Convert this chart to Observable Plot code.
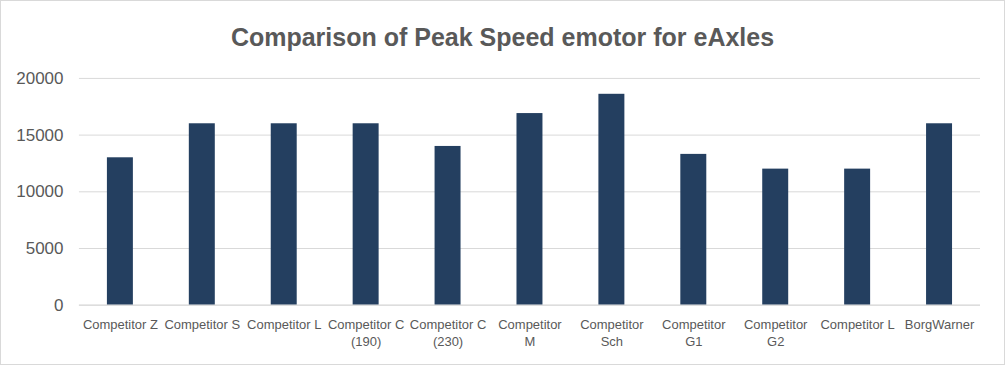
<!DOCTYPE html>
<html>
<head>
<meta charset="utf-8">
<script src="https://cdn.jsdelivr.net/npm/d3@7"></script>
<script src="https://cdn.jsdelivr.net/npm/@observablehq/plot@0.6"></script>
<style>
  html, body { margin: 0; padding: 0; background: #fff; }
  #wrap { position: relative; width: 1005px; height: 365px; box-sizing: border-box; border: 1px solid #d9d9d9; overflow: hidden; }
  #title { position: absolute; top: 22px; left: 0; width: 1003px; text-align: center; font-family: "Liberation Sans", Arial, sans-serif; font-weight: bold; font-size: 25px; color: #595959; }
  #chart { position: absolute; top: -1px; left: -1px; }
</style>
</head>
<body>
<div id="wrap">
  <div id="title">Comparison of Peak Speed emotor for eAxles</div>
  <div id="chart"></div>
</div>
<script>
const categories = ["Competitor Z", "Competitor S", "Competitor L", "Competitor C\n(190)", "Competitor C\n(230)", "Competitor\nM", "Competitor\nSch", "Competitor\nG1", "Competitor\nG2", "Competitor L", "BorgWarner"];
const peakSpeed = [13000, 16000, 16000, 16000, 14000, 16900, 18600, 13300, 12000, 12000, 16000];
const yTicks = [0, 5000, 10000, 15000, 20000];

const keys = categories.map((c, i) => i);
const data = keys.map(i => ({key: i, label: categories[i], value: peakSpeed[i]}));

const chart = Plot.plot({
  width: 1005,
  height: 365,
  marginTop: 78,
  marginBottom: 60,
  marginLeft: 79,
  marginRight: 24,
  style: {fontFamily: "Liberation Sans, Arial, sans-serif", color: "#595959", background: "transparent"},
  x: {domain: keys, paddingInner: 0.68, paddingOuter: 0.34, label: null},
  y: {domain: [0, 20000], label: null},
  marks: [
    Plot.gridY(yTicks, {stroke: "#d9d9d9", strokeOpacity: 1, strokeWidth: 1}),
    Plot.barY(data, {x: "key", y: "value", fill: "#243f60"}),
    Plot.ruleY([0], {stroke: "#d9d9d9", strokeWidth: 1}),
    Plot.axisY({ticks: yTicks, tickSize: 0, tickPadding: 16, fontSize: 17, tickFormat: d => String(d), label: null}),
    Plot.axisX({tickSize: 0, tickPadding: 12, fontSize: 13, lineHeight: 1.3, tickFormat: i => categories[i], label: null})
  ]
});
document.getElementById("chart").appendChild(chart);
</script>
</body>
</html>
